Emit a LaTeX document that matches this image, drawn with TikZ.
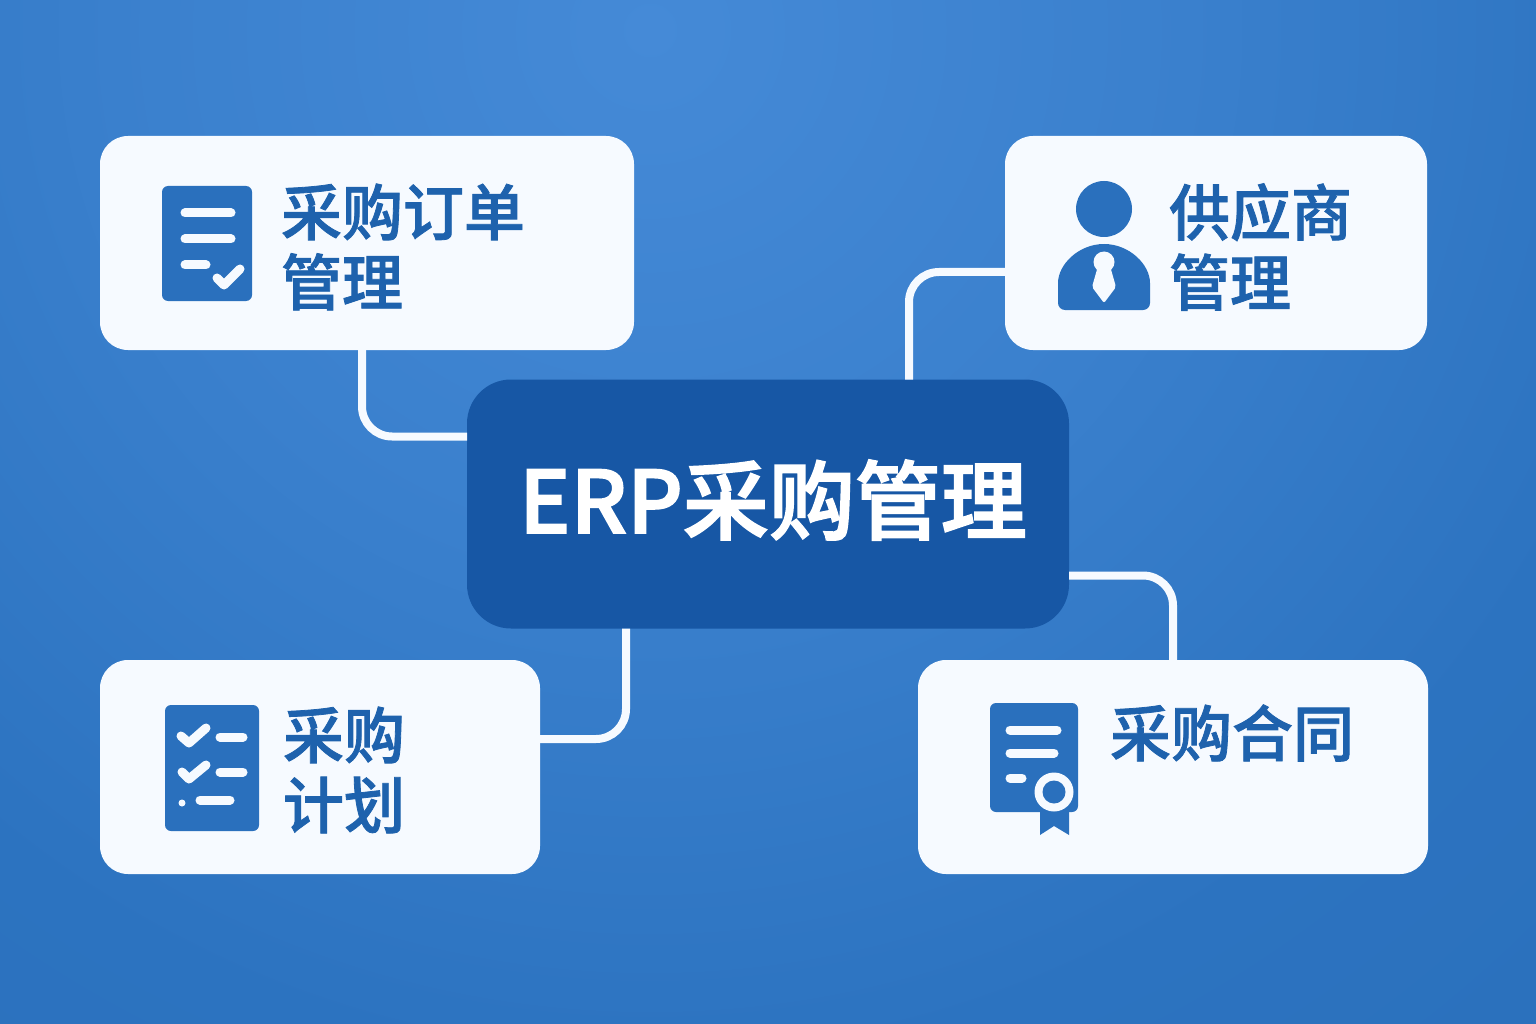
\documentclass[tikz,border=0pt]{standalone}
\usepackage{fontspec}
\usetikzlibrary{calc}
\newfontfamily\cjk[FakeBold=1.3]{Noto Sans CJK SC Medium}
\newfontfamily\cjktitle[FakeBold=2]{Noto Sans CJK SC Medium}
\definecolor{bgin}{HTML}{458AD7}
\definecolor{bgout}{HTML}{2C73C0}
\definecolor{bgedge}{HTML}{2A6EB8}
\definecolor{cardfill}{HTML}{F6FAFF}
\definecolor{corefill}{HTML}{1757A5}
\definecolor{iconblue}{HTML}{2A70BD}
\definecolor{inktext}{HTML}{1E62AD}
\pgfdeclareradialshading{bgglow}{\pgfpointorigin}{color(0bp)=(bgin); color(6.5bp)=(bgin!58!bgout); color(13bp)=(bgout); color(22bp)=(bgedge); color(50bp)=(bgedge)}
\tikzset{
  card/.style={fill=cardfill,rounded corners=28pt,inner sep=0pt,outer sep=0pt,line width=0pt},
  core/.style={fill=corefill,rounded corners=44pt,inner sep=0pt,outer sep=0pt},
  headline/.style={text=white,inner sep=0pt,font=\cjktitle\fontsize{86}{90}\selectfont},
  label/.style={anchor=west,inner sep=0pt,outer sep=0pt,align=left,text=inktext,
    font=\cjk\fontsize{61}{70}\selectfont},
  link/.style={draw=cardfill,line width=8pt,rounded corners=30pt},
  panel/.style={fill=iconblue,rounded corners=6pt},
  bar/.style={draw=cardfill,line width=9pt,line cap=round},
  tick/.style={draw=cardfill,line width=9pt,line cap=round,line join=round},
}
\begin{document}
\begin{tikzpicture}[x=1pt,y=-1pt]
\useasboundingbox (0,0) rectangle (1536,1024);
\begin{scope}
\clip (0,0) rectangle (1536,1024);
\shade[shading=bgglow] (650,30) circle[radius=2000];
\end{scope}
% cards
\node[card,minimum width=534pt,minimum height=214pt] (orders) at (367,243) {};
\node[card,minimum width=422pt,minimum height=214pt] (supplier) at (1216,243) {};
\node[card,minimum width=440pt,minimum height=214pt] (plan) at (320,767) {};
\node[card,minimum width=510pt,minimum height=214pt] (contract) at (1173,767) {};
\node[core,minimum width=602pt,minimum height=249pt] (erp) at (768,504) {};
\node[headline] (title) at (773,500) {ERP采购管理};
% connectors
\draw[link] ($(orders.south west)+(262,0)$) |- ($(erp.north west)+(0,57)$);
\draw[link] ($(supplier.north west)+(0,136)$) -| ($(erp.north west)+(442,0)$);
\draw[link] ($(erp.south west)+(159,0)$) |- ($(plan.north east)+(0,79)$);
\draw[link] ($(erp.north east)+(0,196)$) -| ($(contract.north west)+(255,0)$);
% labels
\node[label] (t1) at (281,247) {采购订单\\管理};
\node[label] (t2) at (1169,247) {供应商\\管理};
\node[label] (t3) at (283,770) {采购\\计划};
\node[label] (t4) at (1110,733) {采购合同};
% icon: order
\fill[panel] (162,186) rectangle (252,301);
\draw[bar] (185,213) -- (231,213);
\draw[bar] (185,239) -- (231,239);
\draw[bar] (185,265) -- (206,265);
\draw[tick] (217,278) -- (224,285) -- (240,269);
% icon: supplier
\fill[iconblue] (1104,209) circle[radius=28];
\fill[iconblue,rounded corners=7pt] (1058,310) -- (1058,290) arc[start angle=180,end angle=360,radius=46] -- (1150,310) -- cycle;
\fill[cardfill] (1104,262) circle[radius=10.5];
\fill[cardfill,rounded corners=2pt] (1098,266) -- (1092,287) -- (1104,303) -- (1116,287) -- (1110,266) -- cycle;
% icon: plan
\fill[panel] (165,705) rectangle (259,831);
\draw[tick] (181,736) -- (189,743) -- (206,728);
\draw[tick] (182,772) -- (189,779) -- (206,765);
\draw[bar] (220,737) -- (243,737);
\draw[bar] (220,772) -- (243,772);
\draw[bar] (200,800) -- (230,800);
\fill[cardfill] (182,803) circle[radius=3.5];
% icon: contract
\fill[iconblue] (1040,805) -- (1069,805) -- (1069,835) -- (1054,826) -- (1040,835) -- cycle;
\fill[panel] (990,703) rectangle (1078,812);
\draw[bar] (1010,730) -- (1057,730);
\draw[bar] (1010,753) -- (1054,753);
\draw[bar] (1010,778) -- (1022,778);
\fill[cardfill] (1054,792) circle[radius=19.5];
\fill[iconblue] (1054,792) circle[radius=11.5];
\end{tikzpicture}
\end{document}
